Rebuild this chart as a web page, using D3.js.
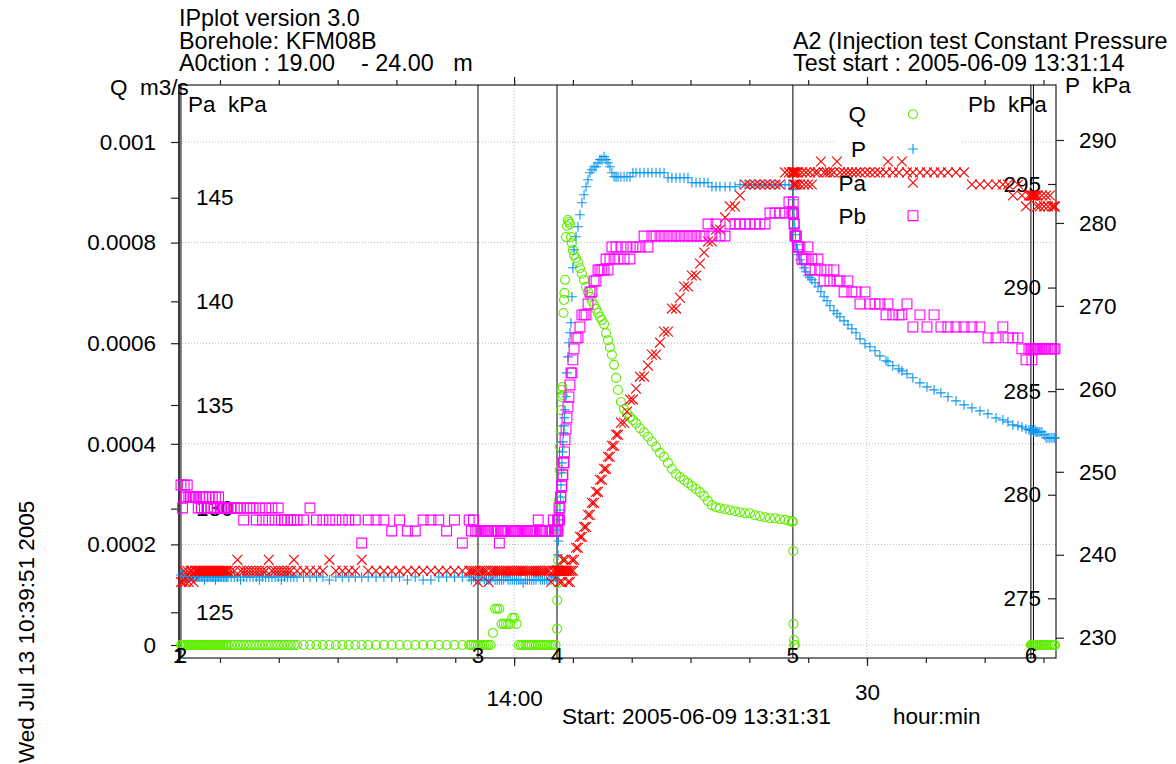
<!DOCTYPE html>
<html>
<head>
<meta charset="utf-8">
<script src="https://cdn.jsdelivr.net/npm/d3@7"></script>
<style>
  html, body { margin: 0; padding: 0; background: #fff; }
  svg { display: block; }
</style>
</head>
<body>
<svg id="chart" width="1176" height="764"></svg>
<script>
// ---------------- data ----------------
// logger time base: seconds after 2005-06-09 13:31:31
const testStart = new Date(2005, 5, 9, 13, 31, 31);
const axisSpanSec = 4473;

const elapsedSec = [
  // phase 1 - rest before packer test
  10,18,26,34,42,50,58,66,74,82,90,98,106,114,122,130,138,146,154,162,170,178,186,194,202,210,218,226,234,242,250,
  266,282,298,314,330,346,362,378,394,410,426,442,458,474,490,506,522,538,554,570,586,602,
  635,668,701,734,767,800,833,866,899,932,965,
  1005,1045,1085,1125,1165,1205,1245,1285,1325,1365,1405,1445,
  // phase 2
  1480,1491,1502,1513,1524,1535,1546,1557,1568,1579,1590,1601,1612,1623,1634,1645,1656,1667,1678,1689,1700,
  1711,1722,1733,1744,1755,1766,1777,1788,1799,1810,1821,1832,1843,1854,1865,1876,1887,1898,1909,1920,
  // phase 3 - injection
  1928,1929,1931,1933,1935,1938,1941,1943,1946,1948,1951,1953,1956,1958,1961,1964,1966,1969,
  1974,1979,1984,1989,1994,1999,2004,2009,2015,
  2025,2035,2045,2055,2066,2076,2086,2096,2106,2117,2127,2137,2147,2157,2168,2178,2188,2198,2208,2219,2229,2239,
  2254,2270,2285,2300,2315,2331,
  2351,2372,2392,2412,2433,2453,2474,2494,2514,2535,2555,2576,2596,2616,2637,2657,2678,2698,2718,2739,2759,
  2785,2810,2836,2861,2887,2912,2938,2963,2989,3014,3040,3065,3091,
  3111,3126,
  // phase 4 - recovery
  3131,3133,3134,3137,3138,3141,3144,3149,3154,3159,3167,3177,3188,3198,3208,3218,3228,3244,3259,3274,
  3290,3305,3320,3340,3356,3371,3392,3412,3432,3453,3473,3499,3524,3550,3575,3606,3616,3641,3672,3687,
  3713,3743,3779,3815,3851,3886,3922,3963,4004,4044,4085,4126,4167,4202,4228,4253,4279,4299,4320,4335,
  // phase 5
  4345,4350,4355,4360,4366,4371,4376,4381,4391,4401,4412,4422,4432,4442,4452,4463,4468
];

// flow rate Q (m3/s); null = not logged
const flowQ = [
  0,0,0,0,0,0,0,0,0,0,0,0,0,0,0,0,0,0,0,0,0,0,0,0,0,0,0,0,0,0,0,
  0,0,0,0,0,0,0,0,0,0,0,0,0,0,0,0,0,0,0,0,0,0,
  0,0,0,0,0,0,0,0,0,0,0,
  0,0,0,0,0,0,0,0,0,0,0,0,
  0,0,0,0,0,0,0,0,0,0,0,0.000024,0.000072,0.000072,0.000072,0.000042,0.000042,0.000042,0.000042,0.000042,0.000054,
  0.000054,0.000042,0,0,0,0,0,0,0,0,0,0,0,0,0,0,0,0,0,0,
  0.000032,0.000089,0.000123,0.000169,0.000229,0.000288,0.000348,0.000394,0.000427,0.000467,0.000493,0.000507,0.000513,0.000497,0.000660,0.000686,0.000700,0.000726,
  0.000811,0.000833,0.000845,0.000841,0.000837,0.000811,0.000799,0.000785,0.000775,
  0.000769,0.000761,0.000749,0.000738,0.000726,0.000712,0.000702,0.000692,0.000684,0.000676,0.000668,0.000660,0.000652,0.000646,0.000638,0.000620,0.000606,0.000592,0.000577,0.000557,0.000531,0.000507,
  0.000483,0.000469,0.000461,0.000453,0.000447,0.000441,
  0.000431,0.000423,0.000414,0.000404,0.000394,0.000382,0.000374,0.000362,0.000350,0.000340,0.000334,0.000328,0.000322,0.000316,0.000310,0.000304,0.000296,0.000286,0.000278,0.000274,0.000272,
  0.000270,0.000268,0.000266,0.000264,0.000262,0.000262,0.000258,0.000256,0.000254,0.000252,0.000252,0.000250,0.000249,
  0.000247,0.000245,
  0.000245,0.000187,0.000042,0.000010,0,0,null,null,null,null,null,null,null,null,null,null,null,null,null,null,
  null,null,null,null,null,null,null,null,null,null,null,null,null,null,null,null,null,null,null,null,
  null,null,null,null,null,null,null,null,null,null,null,null,null,null,null,null,null,null,null,null,
  0,0,0,0,0,0,0,0,0,0,0,0,0,0,0,0,0
];

// section pressure P (kPa)
const pressP = [
  237.56,237.56,237.32,237.32,236.96,237.32,237.32,237.32,237.32,236.96,237.32,237.32,237.32,237.32,237.32,236.96,237.32,237.32,237.32,237.32,237.32,237.32,236.96,237.32,237.32,237.32,237.32,237.32,237.32,237.32,237.32,
  237.32,237.32,237.32,236.96,237.32,237.32,237.32,237.32,237.32,236.96,237.32,237.32,237.32,237.32,237.32,237.32,236.96,237.32,237.32,237.32,237.32,237.32,
  237.32,237.32,237.32,237.32,236.96,237.32,237.32,237.32,237.32,237.32,237.32,
  237.32,237.32,237.32,237.32,236.96,237.32,236.96,236.96,237.32,237.32,237.32,237.32,
  237.32,236.96,237.32,236.96,236.96,236.96,237.32,236.96,236.96,236.96,236.96,237.32,236.96,236.96,236.96,236.96,236.96,237.32,236.96,236.96,236.96,
  236.96,236.96,236.96,236.96,236.60,236.96,236.96,236.96,236.96,236.96,236.96,237.32,236.96,236.96,236.96,236.96,236.96,236.96,237.32,237.32,
  236.96,237.56,238.65,239.98,241.66,242.99,244.20,245.40,246.97,248.42,249.87,251.07,252.40,253.61,254.69,255.54,256.50,257.47,
  259.04,261.93,263.86,265.55,266.76,267.96,271.10,274.60,276.77,
  278.34,279.54,280.99,282.44,283.40,284.37,285.21,286.06,286.42,286.78,286.78,287.26,287.63,287.63,287.99,287.63,287.26,286.78,286.06,285.57,285.57,285.57,
  285.57,285.57,285.57,285.57,286.06,286.06,
  286.06,286.06,286.06,286.06,286.06,286.06,286.06,285.45,285.45,285.45,285.45,285.45,285.45,284.85,284.85,284.85,284.85,284.85,284.37,284.37,284.37,
  284.37,284.37,284.37,284.61,284.61,284.61,284.61,284.61,284.61,284.61,284.61,284.61,284.61,
  284.61,284.61,
  284.61,284.01,282.80,281.59,280.39,279.42,278.58,277.37,276.77,276.16,275.56,274.96,274.60,274.11,273.63,273.39,273.15,272.79,272.30,271.70,
  271.10,270.62,270.01,269.41,269.05,268.69,268.20,267.72,267.24,266.76,266.03,265.43,265.07,264.59,263.98,263.38,263.26,262.78,262.41,262.17,
  261.81,261.33,260.72,260.24,259.88,259.52,259.04,258.55,258.07,257.71,257.35,256.98,256.50,256.26,256.02,255.66,255.54,255.42,255.18,255.06,
  255.06,255.06,255.06,254.81,255.06,254.81,254.81,254.81,254.81,254.81,254.45,254.09,254.09,254.09,254.09,254.09,254.09
];

// pressure above the section, Pa (kPa)
const pressPa = [
  126.46,126.46,127.00,126.46,127.00,126.46,127.00,127.00,126.46,127.00,127.00,127.00,127.00,127.00,127.00,127.00,127.00,127.00,127.00,127.00,127.00,127.00,127.00,127.00,127.00,127.00,127.00,127.00,127.00,127.00,127.00,
  127.00,127.00,127.53,127.00,127.00,127.00,127.00,127.00,127.00,127.00,127.00,127.00,127.53,127.00,127.00,127.00,127.00,127.00,127.00,127.00,127.53,127.00,
  127.00,127.00,127.00,127.00,127.53,127.00,127.00,127.00,127.00,127.53,127.00,
  127.00,127.00,127.00,127.00,127.00,127.00,127.00,127.00,127.00,127.00,127.00,127.00,
  127.00,127.00,127.00,127.00,126.46,127.00,127.00,127.00,127.00,126.46,127.00,127.00,127.00,127.00,127.00,127.00,127.00,127.00,127.00,127.00,127.00,
  127.00,127.00,127.00,127.00,127.00,127.00,127.00,127.00,127.00,127.00,127.00,127.00,127.00,127.00,127.00,127.00,127.00,126.46,127.00,127.00,
  127.00,127.00,127.00,127.00,127.00,127.00,126.46,127.00,127.00,127.00,127.00,126.46,127.00,127.53,127.00,127.00,127.00,127.53,
  127.00,127.00,126.46,127.00,126.46,127.00,127.53,127.00,127.53,
  128.11,128.11,128.64,128.64,129.12,129.12,129.70,129.70,130.28,130.28,130.81,130.81,131.39,131.39,131.92,131.92,132.50,132.50,133.03,133.03,133.57,133.57,
  134.15,134.15,134.68,135.26,135.26,135.79,
  136.37,136.37,136.90,137.43,137.43,138.01,138.54,138.54,139.65,139.65,140.18,140.72,140.72,141.25,141.25,141.83,142.36,142.89,142.89,143.47,143.47,
  144.05,144.58,144.58,145.11,145.64,145.64,145.64,145.64,145.64,145.64,145.64,145.64,146.22,
  146.22,146.22,
  146.22,146.22,145.64,146.22,145.64,146.22,145.64,146.22,145.64,146.22,145.64,146.22,145.64,146.22,145.64,146.22,145.64,146.22,146.22,146.75,
  146.22,146.22,146.22,146.22,146.75,146.22,146.22,146.22,146.22,146.22,146.22,146.22,146.22,146.22,146.22,146.22,146.75,146.22,146.22,146.75,
  146.22,146.22,146.22,146.22,146.22,146.22,146.22,146.22,146.22,145.64,145.64,145.64,145.64,145.64,145.64,145.11,145.64,145.11,144.58,145.11,
  145.11,145.11,145.11,145.11,145.11,145.11,144.58,145.11,144.58,145.11,144.58,145.11,144.58,145.11,144.58,144.58,144.58
];

// pressure below the section, Pb (kPa)
const pressPb = [
  280.47,279.36,280.47,279.89,280.47,279.89,279.89,279.89,279.89,279.89,279.89,279.36,279.89,279.36,279.89,279.36,279.89,279.36,279.89,279.36,279.89,279.36,279.89,279.36,279.89,279.36,279.36,279.36,279.36,279.36,279.36,
  279.36,279.36,279.36,279.36,278.78,279.36,279.36,279.36,278.78,279.36,278.78,279.36,278.78,279.36,278.78,279.36,278.78,278.78,278.78,278.78,278.78,278.78,
  278.78,279.36,278.78,278.78,278.78,278.78,278.78,278.78,278.78,277.67,278.78,
  278.78,278.78,278.25,278.78,278.25,278.25,278.78,278.78,278.78,278.25,278.78,277.67,
  278.78,278.25,278.78,278.25,278.25,278.25,278.25,278.25,278.25,278.25,278.25,278.25,278.25,278.25,277.67,278.25,278.25,278.25,278.25,278.25,278.25,
  278.25,278.25,278.25,278.25,278.25,278.25,278.25,278.25,278.25,278.25,278.25,278.78,278.25,278.25,278.25,278.25,278.25,278.25,278.78,278.25,
  278.25,278.25,278.78,278.25,278.78,279.36,278.78,279.36,279.89,279.89,280.42,280.42,280.96,280.96,281.54,281.54,282.07,282.65,
  283.18,283.71,284.24,284.72,285.30,285.88,285.88,286.51,287.04,
  287.57,287.57,288.10,288.68,288.68,288.68,289.21,289.79,289.79,290.32,290.32,290.85,290.85,290.85,290.85,291.38,290.85,291.38,291.96,291.38,291.96,291.38,
  291.96,291.38,291.96,291.38,291.96,291.96,
  291.96,292.49,291.96,292.49,292.49,292.49,292.49,292.49,292.49,292.49,292.49,292.49,292.49,292.49,292.49,292.49,292.49,293.07,292.49,293.07,292.49,
  292.49,293.07,293.07,293.07,293.07,293.07,293.07,293.07,293.07,293.60,293.60,293.60,293.60,
  294.13,293.60,
  293.60,294.13,293.60,293.07,293.07,292.49,292.49,292.49,291.96,291.96,291.96,291.38,291.38,291.38,291.96,290.85,291.38,290.85,291.38,290.85,
  290.32,290.85,290.32,290.85,290.32,290.32,289.79,290.32,289.79,289.79,289.21,289.79,289.21,289.21,289.21,288.68,289.21,288.68,288.68,288.68,
  289.21,288.10,288.68,288.10,288.68,288.10,288.10,288.10,288.10,288.10,288.10,287.57,287.57,288.10,287.57,287.57,287.57,287.04,286.51,287.04,
  287.04,286.51,287.04,287.04,287.04,287.04,287.04,287.04,287.04,287.04,287.04,287.04,287.04,287.04,287.04,287.04,287.04
];

// test events (seconds after start) and their numbers
const eventSec = [0, 10, 1525, 1928, 3131, 4345, 4358];
const eventLabels = ["1", "2", "3", "4", "5", "6", ""];

// axis ticks
const qTicks = [0, 0.0002, 0.0004, 0.0006, 0.0008, 0.001];
const qTickLabels = ["0", "0.0002", "0.0004", "0.0006", "0.0008", "0.001"];
const paTicks = [125, 130, 135, 140, 145];
const pbTicks = [275, 280, 285, 290, 295];
const pTicks = [230, 240, 250, 260, 270, 280, 290];
const timeMajor = [new Date(2005, 5, 9, 14, 0, 0), new Date(2005, 5, 9, 14, 30, 0)];
const timeMajorLabels = ["14:00", "30"];

// texts
const headerLeft = ["IPplot version 3.0", "Borehole: KFM08B", "A0ction : 19.00    - 24.00   m"];
const headerRight = ["A2 (Injection test Constant Pressure", "Test start : 2005-06-09 13:31:14"];
const printDate = "Wed Jul 13 10:39:51 2005";
const startLabel = "Start: 2005-06-09 13:31:31";
const unitLabel = "hour:min";

const seriesDefs = [
  { name: "Q",  values: flowQ,   axis: "q",  shape: "circle", color: "#5fee00" },
  { name: "P",  values: pressP,  axis: "p",  shape: "plus",   color: "#0a96f0" },
  { name: "Pa", values: pressPa, axis: "pa", shape: "cross",  color: "#ff0000" },
  { name: "Pb", values: pressPb, axis: "pb", shape: "square", color: "#ff00ff" }
];

// ---------------- layout ----------------
const FONT = "'Liberation Sans', Arial, Helvetica, sans-serif";
const FS = 22.5;      // axis and label text
const FS_HEAD = 23.4; // header lines
const frame = { left: 179, right: 1056, top: 85, bottom: 658 };

const svg = d3.select("#chart")
  .attr("font-family", FONT)
  .attr("font-size", FS);

svg.append("rect").attr("width", 1176).attr("height", 764).attr("fill", "#fff");

// scales
const x = d3.scaleTime()
  .domain([testStart, d3.timeSecond.offset(testStart, axisSpanSec)])
  .range([frame.left, frame.right]);
const yQ = d3.scaleLinear().domain([0, 0.001]).range([645, 142]);
const yPa = d3.scaleLinear().domain([125, 145]).range([612.3, 197.7]);
const yPb = d3.scaleLinear().domain([275, 295]).range([598.3, 184]);
const yP = d3.scaleLinear().domain([230, 290]).range([637.7, 140]);
const yOf = { q: yQ, p: yP, pa: yPa, pb: yPb };

// dotted grid
const grid = svg.append("g")
  .attr("stroke", "#b8b8b8").attr("stroke-width", 1).attr("stroke-dasharray", "1,2");
grid.selectAll("line.h").data(qTicks).join("line")
  .attr("x1", frame.left).attr("x2", frame.right)
  .attr("y1", d => yQ(d)).attr("y2", d => yQ(d));
grid.selectAll("line.v").data(timeMajor).join("line")
  .attr("x1", d => x(d)).attr("x2", d => x(d))
  .attr("y1", frame.top).attr("y2", frame.bottom);

// legend background
svg.append("rect").attr("x", 835).attr("y", 87).attr("width", 125).attr("height", 140).attr("fill", "#fff");

// frame
svg.append("rect")
  .attr("x", frame.left).attr("y", frame.top)
  .attr("width", frame.right - frame.left).attr("height", frame.bottom - frame.top)
  .attr("fill", "none").attr("stroke", "#222").attr("stroke-width", 1.2);

// event lines
svg.append("g").selectAll("line").data(eventSec).join("line")
  .attr("x1", d => x(d3.timeSecond.offset(testStart, d)))
  .attr("x2", d => x(d3.timeSecond.offset(testStart, d)))
  .attr("y1", frame.top).attr("y2", frame.bottom)
  .attr("stroke", "#000").attr("stroke-width", 1);

// axes
function styleAxis(g) {
  g.select(".domain").remove();
  g.selectAll(".tick line").attr("stroke", "#222").attr("stroke-width", 1.2);
  g.selectAll("text").attr("font-size", FS).attr("font-family", FONT).attr("fill", "#000");
  g.attr("font-size", null).attr("font-family", null);
}

svg.append("g").attr("transform", `translate(${frame.left},0)`)
  .call(d3.axisLeft(yQ).tickValues(qTicks).tickFormat((d, i) => qTickLabels[i]).tickSize(8).tickPadding(15))
  .call(styleAxis);

svg.append("g").attr("transform", `translate(${frame.left},0)`)
  .call(d3.axisLeft(yPa).tickValues(paTicks).tickFormat(d3.format("d")).tickSize(8))
  .call(styleAxis)
  .call(g => g.selectAll("text").attr("x", 17).attr("text-anchor", "start"));

svg.append("g").attr("transform", `translate(${frame.right},0)`)
  .call(d3.axisLeft(yPb).tickValues(pbTicks).tickFormat(d3.format("d")).tickSize(8).tickPadding(7))
  .call(styleAxis);

svg.append("g").attr("transform", `translate(${frame.right},0)`)
  .call(d3.axisRight(yP).tickValues(pTicks).tickFormat(d3.format("d")).tickSize(8).tickPadding(15))
  .call(styleAxis);

const minorTicks = x.ticks(d3.timeMinute.every(5));
svg.append("g").attr("transform", `translate(0,${frame.bottom})`)
  .call(d3.axisBottom(x).tickValues(minorTicks).tickFormat("").tickSize(5))
  .call(styleAxis);
svg.append("g").attr("transform", `translate(0,${frame.bottom})`)
  .call(d3.axisBottom(x).tickValues(timeMajor).tickFormat((d, i) => timeMajorLabels[i]).tickSize(8).tickPadding(24))
  .call(styleAxis)
  .call(g => g.selectAll("text").filter((d, i) => i === 1).attr("y", 26));
svg.append("g").attr("transform", `translate(0,${frame.top})`)
  .call(d3.axisTop(x).tickValues(minorTicks).tickFormat("").tickSize(5))
  .call(styleAxis);
svg.append("g").attr("transform", `translate(0,${frame.top})`)
  .call(d3.axisTop(x).tickValues(timeMajor).tickFormat("").tickSize(8))
  .call(styleAxis);

// marker shapes
const shapePath = {
  circle: "M4.5,0A4.5,4.5 0 1,1 -4.5,0A4.5,4.5 0 1,1 4.5,0Z",
  plus: "M-4.9,0H4.9M0,-4.9V4.9",
  cross: "M-4.9,-4.9L4.9,4.9M-4.9,4.9L4.9,-4.9",
  square: "M-4.9,-4.9H4.9V4.9H-4.9Z"
};

// data marks
seriesDefs.forEach(s => {
  const y = yOf[s.axis];
  const n = Math.min(elapsedSec.length, s.values.length);
  const pts = [];
  for (let i = 0; i < n; i++) {
    if (s.values[i] === null || s.values[i] === undefined) continue;
    pts.push({ t: d3.timeSecond.offset(testStart, elapsedSec[i]), v: s.values[i] });
  }
  svg.append("g").attr("fill", "none").attr("stroke", s.color).attr("stroke-width", 1.1)
    .selectAll("path").data(pts).join("path")
    .attr("d", shapePath[s.shape])
    .attr("transform", d => `translate(${x(d.t)},${y(d.v)})`);
});

// legend
const legendY = [114.3, 149, 182.7, 215.7];
const legend = svg.append("g");
seriesDefs.forEach((s, i) => {
  legend.append("text").attr("x", 866).attr("y", legendY[i] + 8)
    .attr("text-anchor", "end").text(s.name);
  legend.append("path").attr("d", shapePath[s.shape])
    .attr("transform", `translate(913,${legendY[i]})`)
    .attr("fill", "none").attr("stroke", s.color).attr("stroke-width", 1.1);
});

// event numbers
svg.append("g").selectAll("text").data(eventSec).join("text")
  .attr("x", d => x(d3.timeSecond.offset(testStart, d)))
  .attr("y", 663)
  .attr("text-anchor", "middle")
  .text((d, i) => eventLabels[i]);

// axis titles
const pre = sel => sel.style("white-space", "pre");
svg.append("text").attr("x", 110).attr("y", 95).call(pre).text("Q  m3/s");
svg.append("text").attr("x", 188).attr("y", 111.5).call(pre).text("Pa  kPa");
svg.append("text").attr("x", 968).attr("y", 111.5).call(pre).text("Pb  kPa");
svg.append("text").attr("x", 1065).attr("y", 93).call(pre).text("P  kPa");

// header
headerLeft.forEach((t, i) => svg.append("text").attr("x", 179).attr("y", 26 + i * 22.5)
  .attr("font-size", FS_HEAD).call(pre).text(t));
headerRight.forEach((t, i) => svg.append("text").attr("x", 793).attr("y", 48.5 + i * 22.5)
  .attr("font-size", FS_HEAD).call(pre).text(t));

// footer
svg.append("text").attr("x", 562).attr("y", 724).text(startLabel);
svg.append("text").attr("x", 893).attr("y", 724).text(unitLabel);
svg.append("text").attr("transform", "translate(33.5,763) rotate(-90)").text(printDate);
</script>
</body>
</html>
